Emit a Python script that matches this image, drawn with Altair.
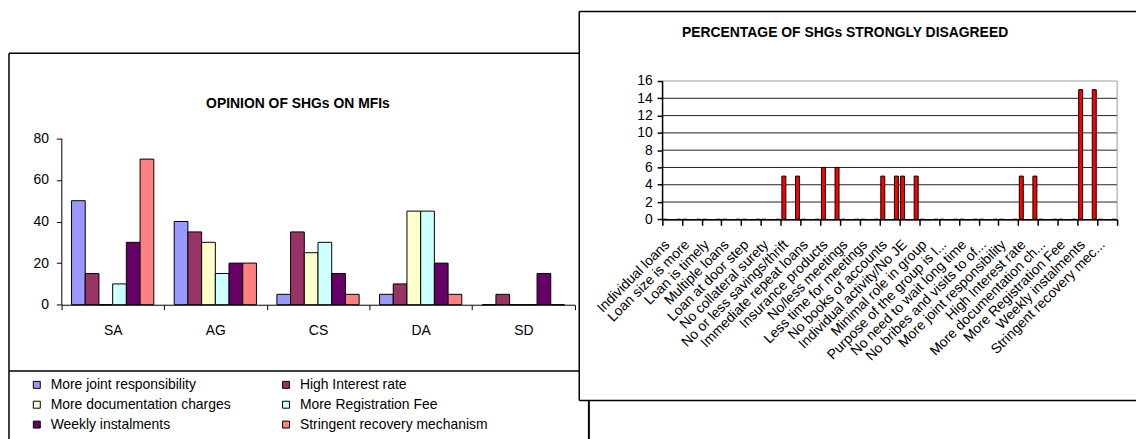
import altair as alt
import pandas as pd

FONT = "Liberation Sans"

# ---------------- Left chart data: OPINION OF SHGs ON MFIs ----------------
groups = ["SA", "AG", "CS", "DA", "SD"]
series_names = [
    "More joint responsibility",
    "High Interest rate",
    "More documentation charges",
    "More Registration Fee",
    "Weekly instalments",
    "Stringent recovery mechanism",
]
more_joint_responsibility = [50, 40, 5, 5, 0]
high_interest_rate = [15, 35, 35, 10, 5]
more_documentation_charges = [0, 30, 25, 45, 0]
more_registration_fee = [10, 15, 30, 45, 0]
weekly_instalments = [30, 20, 15, 20, 15]
stringent_recovery_mechanism = [70, 20, 5, 5, 0]
series_colors = ["#9999FF", "#993366", "#FFFFCC", "#CCFFFF", "#660066", "#FF8080"]
left_y_ticks = [0, 20, 40, 60, 80]

# ---------------- Right chart data: PERCENTAGE OF SHGs STRONGLY DISAGREED ----------------
reasons = [
    "Individual loans", "Loan size is more", "Loan is timely", "Multiple loans",
    "Loan at door step", "No collateral surety", "No or less savings/thrift",
    "Immediate repeat loans", "Insurance products", "No/less meetings",
    "Less time for meetings", "No books of accounts", "Individual activity/No JE",
    "Minimal role in group", "Purpose of the group is l...", "No need to wait long time",
    "No bribes and visits to of...", "More joint responsibility", "High Interest rate",
    "More documentation ch...", "More Registration Fee", "Weekly instalments",
    "Stringent recovery mec...",
]
disagreed_first = [0, 0, 0, 0, 0, 0, 5, 0, 6, 0, 0, 5, 5, 0, 0, 0, 0, 0, 5, 0, 0, 15, 0]
disagreed_second = [0, 0, 0, 0, 0, 0, 5, 0, 6, 0, 0, 5, 5, 0, 0, 0, 0, 0, 5, 0, 0, 15, 0]
right_series = ["first", "second"]
right_y_ticks = [0, 2, 4, 6, 8, 10, 12, 14, 16]

# ---------------- tables ----------------
left_rows = []
for name, vals in zip(series_names, [more_joint_responsibility, high_interest_rate,
                                     more_documentation_charges, more_registration_fee,
                                     weekly_instalments, stringent_recovery_mechanism]):
    for g, v in zip(groups, vals):
        left_rows.append({"group": g, "series": name, "value": v})
left_df = pd.DataFrame(left_rows)

right_rows = []
for s, vals in zip(right_series, [disagreed_first, disagreed_second]):
    for r, v in zip(reasons, vals):
        right_rows.append({"reason": r, "series": s, "value": v})
right_df = pd.DataFrame(right_rows)
grid_df = pd.DataFrame({"v": [t for t in right_y_ticks if 0 < t < max(right_y_ticks)]})

one = pd.DataFrame({"k": [0]})

W, H = 1136, 431

# geometry (view coordinates)
L_X0, L_X1 = 53.7, 570.7
L_Y0, L_Y1 = 297.3, 129.7
R_X0, R_X1 = 658.7, 1117.0
R_Y0, R_Y1 = 211.3, 72.0
R_LEFT, R_TOP, R_BOTTOM = 575.3, 2.0, 393.7


def hrule(x1, x2, y, color="black", w=1.5):
    return alt.Chart(one).mark_rule(color=color, strokeWidth=w).encode(
        x=alt.value(x1), x2=alt.value(x2), y=alt.value(y))


def vrule(x, y1, y2, color="black", w=1.5):
    return alt.Chart(one).mark_rule(color=color, strokeWidth=w).encode(
        x=alt.value(x), y=alt.value(y1), y2=alt.value(y2))


def label(text, x, y):
    return alt.Chart(one).mark_text(text=text, font=FONT, fontSize=14, fontWeight="bold",
                                    align="center", baseline="middle", color="black").encode(
        x=alt.value(x), y=alt.value(y))


def right_yscale():
    return alt.Scale(domain=[0, 16], range=[R_Y0, R_Y1], nice=False, zero=True)


def axis(**kw):
    base = dict(title=None, labelFont=FONT, labelFontSize=14, labelColor="black",
                domain=True, ticks=True, domainColor="black", domainWidth=1,
                tickColor="black", tickWidth=1, grid=False, zindex=1)
    base.update(kw)
    return alt.Axis(**base)


# ---------------- left chart ----------------
left_frame = [
    hrule(1, R_LEFT, 44),
    vrule(1, 44, H + 10),
    vrule(585, R_BOTTOM, H + 10, w=2),
    hrule(1, R_LEFT, 364),
]
left_title = label("OPINION OF SHGs ON MFIs", 292, 95)

left_bars = alt.Chart(left_df).mark_bar(stroke="black", strokeWidth=1).encode(
    x=alt.X("group:N", sort=groups,
            scale=alt.Scale(range=[L_X0, L_X1], paddingInner=0, paddingOuter=0),
            axis=axis(orient="bottom", offset=L_Y0 - H, labelAngle=0, labelPadding=14,
                      tickBand="extent", tickSize=5)),
    xOffset=alt.XOffset("series:N", sort=series_names,
                        scale=alt.Scale(range=[0, (L_X1 - L_X0) / len(groups)],
                                        paddingInner=0, paddingOuter=0.745)),
    y=alt.Y("value:Q",
            scale=alt.Scale(domain=[0, 80], range=[L_Y0, L_Y1], nice=False),
            axis=axis(orient="left", offset=-L_X0, values=left_y_ticks,
                      labelPadding=8, tickSize=5)),
    color=alt.Color("series:N", sort=series_names,
                    scale=alt.Scale(domain=series_names, range=series_colors),
                    legend=alt.Legend(orient="none", legendX=22, legendY=371, title=None,
                                      columns=2, direction="horizontal",
                                      columnPadding=48, rowPadding=6,
                                      symbolType="square", symbolSize=49,
                                      symbolStrokeColor="black", symbolStrokeWidth=1,
                                      labelFont=FONT, labelFontSize=14, labelColor="black",
                                      labelOffset=7, padding=0, labelLimit=300)),
)

# ---------------- right chart ----------------
right_frame = [
    hrule(R_LEFT, W, R_TOP),
    vrule(R_LEFT, R_TOP, R_BOTTOM),
    hrule(R_LEFT, W, R_BOTTOM),
]
right_title = label("PERCENTAGE OF SHGs STRONGLY DISAGREED", 843, 24)

right_grid = alt.Chart(grid_df).mark_rule(color="#222222", strokeWidth=1).encode(
    y=alt.Y("v:Q", scale=right_yscale(), axis=None),
    x=alt.value(R_X0), x2=alt.value(R_X1))
right_top = alt.Chart(one).mark_rule(color="#999999", strokeWidth=1).encode(
    y=alt.Y(datum=16, scale=right_yscale(), axis=None),
    x=alt.value(R_X0), x2=alt.value(R_X1))
right_side = vrule(R_X1, R_Y1, R_Y0, color="#999999", w=1)

right_bars = alt.Chart(right_df).mark_bar(color="#FF0000", stroke="black", strokeWidth=1).encode(
    x=alt.X("reason:N", sort=reasons,
            scale=alt.Scale(range=[R_X0, R_X1], paddingInner=0, paddingOuter=0),
            axis=axis(orient="bottom", offset=R_Y0 - H, labelAngle=-45,
                      labelAlign="right", labelBaseline="bottom", labelPadding=22,
                      labelOverlap=False, labelLimit=300, tickBand="extent", tickSize=6,
                      domainWidth=1.5, tickWidth=1.5)),
    xOffset=alt.XOffset("series:N", sort=right_series,
                        scale=alt.Scale(range=[0, (R_X1 - R_X0) / len(reasons)],
                                        paddingInner=0.708, paddingOuter=0.081)),
    y=alt.Y("value:Q", scale=right_yscale(),
            axis=axis(orient="left", offset=-R_X0, values=right_y_ticks,
                      labelPadding=5, tickSize=5, domainWidth=1.5, tickWidth=1.5)),
)

# axis lines of the right plot, drawn on top
right_axis_lines = [
    vrule(R_X0 + 0.5, R_Y1, R_Y0 + 0.5, w=1),
    hrule(R_X0, R_X1, R_Y0 + 0.5, w=1),
]

chart = alt.layer(
    *left_frame, left_title, left_bars,
    *right_frame, right_title, right_grid, right_top, right_side, right_bars,
    *right_axis_lines,
).resolve_scale(
    x="independent", y="independent", xOffset="independent", color="independent"
).resolve_axis(
    x="independent", y="independent"
).properties(
    width=W, height=H, padding=0, autosize="none", background="white"
).configure_view(strokeWidth=0)

chart.save("out.html", embed_options={"renderer": "svg", "actions": False})
